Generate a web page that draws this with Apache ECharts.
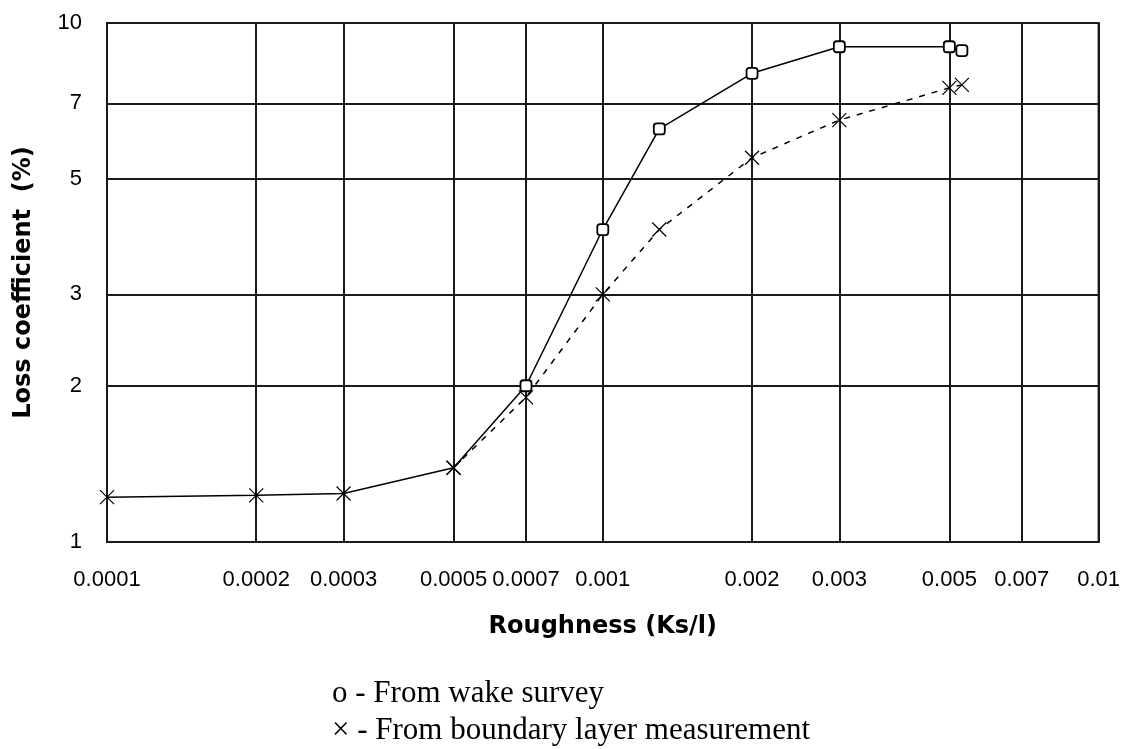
<!DOCTYPE html>
<html><head><meta charset="utf-8">
<script src="https://cdn.jsdelivr.net/npm/echarts@6/dist/echarts.min.js"></script>
<style>html,body{margin:0;padding:0;background:#fff}#c{width:1123px;height:749px}</style>
</head><body><div id="c"></div>
<script>
// Axis ticks
const xTicks = [0.0001, 0.0002, 0.0003, 0.0005, 0.0007, 0.001, 0.002, 0.003, 0.005, 0.007, 0.01];
const xTickLabels = ['0.0001', '0.0002', '0.0003', '0.0005', '0.0007', '0.001', '0.002', '0.003', '0.005', '0.007', '0.01'];
const yTicks = [1, 2, 3, 5, 7, 10];
const yTickLabels = ['1', '2', '3', '5', '7', '10'];

// Shared low-roughness part (solid line, x markers)
const lowX = [0.0001, 0.0002, 0.0003, 0.0005];
const lowY = [1.22, 1.23, 1.24, 1.39];
// From wake survey (solid line, o markers)
const wakeX = [0.0005, 0.0007, 0.001, 0.0013, 0.002, 0.003, 0.005, 0.0053];
const wakeY = [1.39, 2.0, 4.0, 6.25, 8.0, 9.0, 9.0, 8.85];
// From boundary layer measurement (dashed line, x markers)
const bndX = [0.0005, 0.0007, 0.001, 0.0013, 0.002, 0.003, 0.005, 0.0053];
const bndY = [1.39, 1.9, 3.0, 4.0, 5.5, 6.5, 7.5, 7.6];

const legendLines = ['o - From wake survey', '\u00d7 - From boundary layer measurement'];

function nearestLabel(v, ticks, labels) {
  let best = 0, bd = Infinity;
  ticks.forEach((t, i) => { const d = Math.abs(Math.log(v) - Math.log(t)); if (d < bd) { bd = d; best = i; } });
  return labels[best];
}
const zip = (a, b) => a.map((v, i) => [v, b[i]]);
const xSym = 'path://M0,0L10,10M10,0L0,10';
const gridColor = '#1a1a1a';
const tickFont = { fontFamily: 'Liberation Sans', fontSize: 22, color: '#000' };

const chart = echarts.init(document.getElementById('c'), null, { renderer: 'canvas' });
chart.setOption({
  backgroundColor: '#fff',
  animation: false,
  grid: { left: 107, right: 23, top: 23, bottom: 207, show: true, borderColor: gridColor, borderWidth: 2 },
  xAxis: {
    type: 'log', logBase: 10, min: 0.0001, max: 0.01,
    name: 'Roughness (Ks/l)', nameLocation: 'middle', nameGap: 73,
    nameTextStyle: { fontFamily: 'DejaVu Sans', fontWeight: 'bold', fontSize: 24, color: '#000' },
    axisLine: { show: true, lineStyle: { color: gridColor, width: 2 } },
    axisTick: { show: false, customValues: xTicks },
    axisLabel: Object.assign({ customValues: xTicks, margin: 27, formatter: v => nearestLabel(v, xTicks, xTickLabels) }, tickFont),
    splitLine: { show: true, lineStyle: { color: gridColor, width: 2 } },
    minorSplitLine: { show: false }
  },
  yAxis: {
    type: 'log', logBase: 10, min: 1, max: 10,
    name: 'Loss coefficient  (%)', nameLocation: 'middle', nameGap: 71,
    nameTextStyle: { fontFamily: 'DejaVu Sans', fontWeight: 'bold', fontSize: 24, color: '#000' },
    axisLine: { show: true, lineStyle: { color: gridColor, width: 2 } },
    axisTick: { show: false, customValues: yTicks },
    axisLabel: Object.assign({ customValues: yTicks, margin: 25, formatter: v => nearestLabel(v, yTicks, yTickLabels) }, tickFont),
    splitLine: { show: true, lineStyle: { color: gridColor, width: 2 } }
  },
  series: [
    {
      type: 'line', name: 'low', data: zip(lowX, lowY),
      lineStyle: { color: '#000', width: 1.5, type: 'solid' },
      symbol: xSym, symbolSize: 14,
      itemStyle: { color: '#000', borderColor: '#000', borderWidth: 1.2 },
      z: 5
    },
    {
      type: 'line', name: 'From wake survey',
      data: zip(wakeX, wakeY).map((p, i) => i === 0 ? { value: p, symbol: 'none' } : p),
      lineStyle: { color: '#000', width: 1.5, type: 'solid' },
      symbol: 'roundRect', symbolSize: 11, showAllSymbol: true,
      itemStyle: { color: '#fff', borderColor: '#000', borderWidth: 1.8 },
      z: 6
    },
    {
      type: 'line', name: 'From boundary layer measurement',
      data: zip(bndX, bndY),
      lineStyle: { color: '#000', width: 1.5, type: [6, 7] },
      symbol: xSym, symbolSize: 14, showAllSymbol: true,
      itemStyle: { color: '#000', borderColor: '#000', borderWidth: 1.2 },
      z: 5
    }
  ],
  graphic: legendLines.map((t, i) => ({
    type: 'text', left: 332, top: 678 + i * 37,
    style: { text: t, font: '31px "Liberation Serif"', fill: '#000' }
  }))
});
</script></body></html>
